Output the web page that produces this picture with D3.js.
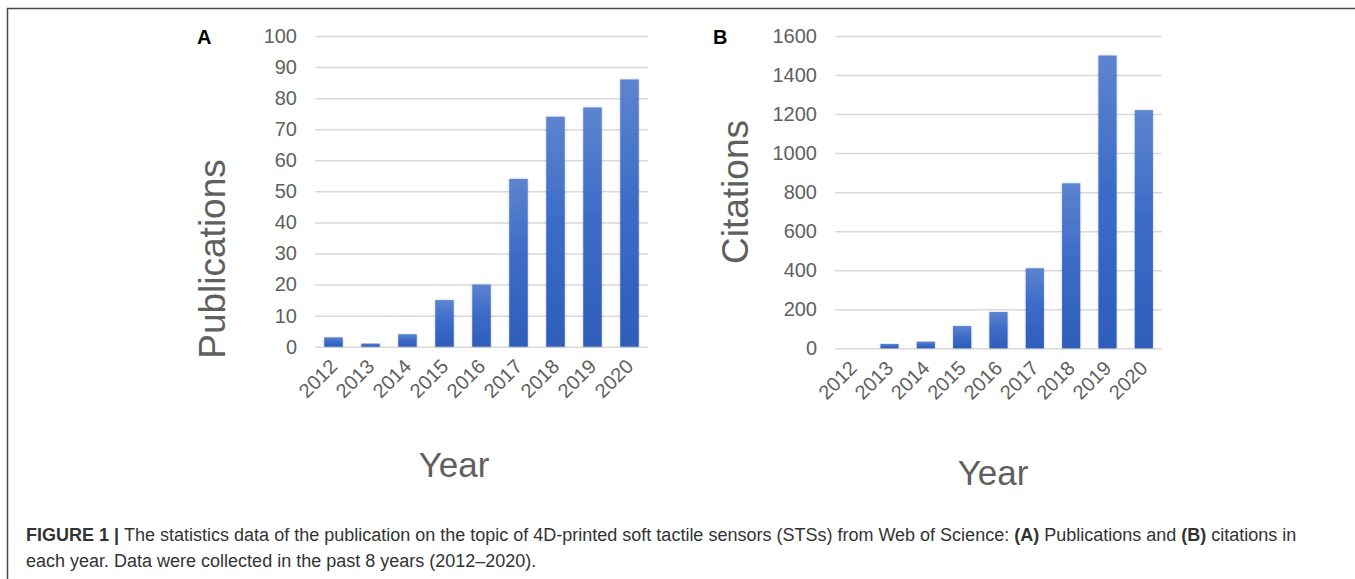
<!DOCTYPE html>
<html>
<head>
<meta charset="utf-8">
<script src="https://cdn.jsdelivr.net/npm/d3@7"></script>
<style>
  body { margin: 0; background: #fff; }
  svg { display: block; }
</style>
</head>
<body>
<script>
const years = ["2012", "2013", "2014", "2015", "2016", "2017", "2018", "2019", "2020"];
const publications = [3, 1, 4, 15, 20, 54, 74, 77, 86];
const citations = [0, 22, 34, 114, 186, 410, 845, 1500, 1220];
const pubTicks = [0, 10, 20, 30, 40, 50, 60, 70, 80, 90, 100];
const citeTicks = [0, 200, 400, 600, 800, 1000, 1200, 1400, 1600];

const W = 1355, H = 579;
const svg = d3.select("body").append("svg")
    .attr("width", W)
    .attr("height", H);

const defs = svg.append("defs");
// bar fill: lighter at top, deeper blue at bottom
const grad = defs.append("linearGradient")
    .attr("id", "barFill")
    .attr("x1", 0).attr("y1", 0).attr("x2", 0).attr("y2", 1);
grad.append("stop").attr("offset", "0%").attr("stop-color", "#5c84cf");
grad.append("stop").attr("offset", "45%").attr("stop-color", "#3d6cc8");
grad.append("stop").attr("offset", "100%").attr("stop-color", "#2e5dba");

// soft shadow round the bars, like the office chart
const shadow = defs.append("filter")
    .attr("id", "soft")
    .attr("x", "-30%").attr("y", "-10%").attr("width", "160%").attr("height", "120%");
shadow.append("feDropShadow")
    .attr("dx", 0).attr("dy", 0).attr("stdDeviation", 1.2)
    .attr("flood-color", "#000").attr("flood-opacity", 0.25);

// figure frame (top and left rules)
svg.append("line")
    .attr("x1", 7).attr("x2", W).attr("y1", 8.5).attr("y2", 8.5)
    .attr("stroke", "#4a4a4a").attr("stroke-width", 1.5);
svg.append("line")
    .attr("x1", 7.5).attr("x2", 7.5).attr("y1", 8).attr("y2", H)
    .attr("stroke", "#4a4a4a").attr("stroke-width", 1.5);

const font = "'Liberation Sans', Arial, sans-serif";
const gray = "#5f5f5f";

function panel(cfg) {
    const x = d3.scaleBand()
        .domain(years)
        .range([cfg.left, cfg.right])
        .paddingInner(0.5)
        .paddingOuter(0.25);
    const y = d3.scaleLinear()
        .domain([0, cfg.max])
        .range([cfg.bottom, cfg.top]);

    const g = svg.append("g");

    const axis = g.append("g")
        .attr("transform", "translate(" + cfg.left + ",0)")
        .call(d3.axisLeft(y)
            .tickValues(cfg.ticks)
            .tickFormat(d3.format("d"))
            .tickSize(-(cfg.right - cfg.left))
            .tickPadding(18));
    axis.select(".domain").remove();
    axis.selectAll(".tick line")
        .attr("stroke", "#d9d9d9")
        .attr("stroke-width", 1.5);
    axis.selectAll(".tick text")
        .attr("fill", gray)
        .style("font-family", font)
        .style("font-size", "20px");

    g.selectAll(".bar")
        .data(cfg.values)
        .enter()
        .append("rect")
        .attr("class", "bar")
        .attr("x", (d, i) => x(years[i]))
        .attr("width", x.bandwidth())
        .attr("y", d => y(d))
        .attr("height", d => y(0) - y(d))
        .attr("fill", "url(#barFill)")
        .attr("filter", "url(#soft)");

    g.selectAll(".xlab")
        .data(years)
        .enter()
        .append("text")
        .attr("class", "xlab")
        .attr("transform", d => "translate(" + (x(d) + x.bandwidth() / 2 + 5) + "," + (cfg.bottom + 21) + ") rotate(-45)")
        .attr("text-anchor", "end")
        .attr("fill", gray)
        .style("font-family", font)
        .style("font-size", "20px")
        .text(d => d);

    g.append("text")
        .attr("transform", "translate(" + cfg.titleX + "," + cfg.titleY + ") rotate(-90)")
        .attr("text-anchor", "middle")
        .attr("fill", gray)
        .style("font-family", font)
        .style("font-size", "37px")
        .text(cfg.title);

    g.append("text")
        .attr("x", cfg.yearX)
        .attr("y", cfg.yearY)
        .attr("text-anchor", "middle")
        .attr("fill", gray)
        .style("font-family", font)
        .style("font-size", "35px")
        .text("Year");

    g.append("text")
        .attr("x", cfg.letterX)
        .attr("y", 44)
        .attr("fill", "#000")
        .style("font-family", font)
        .style("font-size", "20px")
        .style("font-weight", "bold")
        .text(cfg.letter);
}

panel({
    letter: "A", letterX: 197,
    values: publications, ticks: pubTicks, max: 100,
    left: 315, right: 648, top: 36, bottom: 346.7,
    title: "Publications", titleX: 225, titleY: 259,
    yearX: 454, yearY: 477
});

panel({
    letter: "B", letterX: 713,
    values: citations, ticks: citeTicks, max: 1600,
    left: 835, right: 1162, top: 36, bottom: 348.3,
    title: "Citations", titleX: 748, titleY: 192,
    yearX: 993, yearY: 485
});

// caption
const cap = svg.append("g")
    .style("font-family", font)
    .style("font-size", "18px")
    .attr("fill", "#333");
const line1 = cap.append("text").attr("x", 26).attr("y", 541);
line1.append("tspan").style("font-weight", "bold").text("FIGURE 1 | ");
line1.append("tspan").text("The statistics data of the publication on the topic of 4D-printed soft tactile sensors (STSs) from Web of Science: ");
line1.append("tspan").style("font-weight", "bold").text("(A)");
line1.append("tspan").text(" Publications and ");
line1.append("tspan").style("font-weight", "bold").text("(B)");
line1.append("tspan").text(" citations in");
cap.append("text").attr("x", 26).attr("y", 567)
    .text("each year. Data were collected in the past 8 years (2012\u20132020).");
</script>
</body>
</html>
